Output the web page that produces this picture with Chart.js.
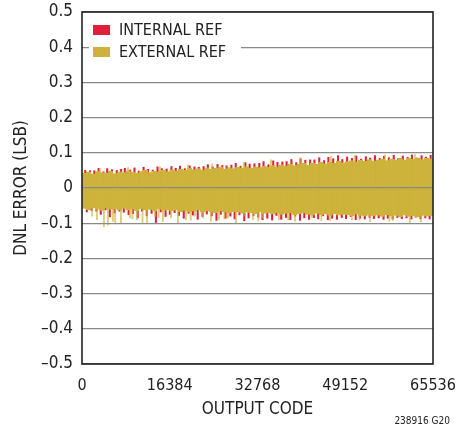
<!DOCTYPE html>
<html>
<head>
<meta charset="utf-8">
<script src="https://cdn.jsdelivr.net/npm/chart.js@4"></script>
<style>
  html, body { margin: 0; padding: 0; background: #fff; }
  #wrap { position: relative; width: 456px; height: 427px; }
  #note {
    position: absolute; right: 6px; bottom: 1px;
    font: 10px 'Liberation Sans Narrow', 'DejaVu Sans Condensed', sans-serif;
    color: #222;
  }
</style>
</head>
<body>
<div id="wrap">
  <canvas id="dnlChart" width="456" height="427"></canvas>
  <div id="note">238916 G20</div>
</div>
<script>
// envelope of the DNL bands, 80 segments across the code range (LSB)
const EXT_HI = [
  0.042, 0.045, 0.040, 0.047, 0.044, 0.043, 0.048, 0.041, 0.046, 0.044,
  0.049, 0.045, 0.043, 0.047, 0.050, 0.044, 0.048, 0.046, 0.051, 0.047,
  0.052, 0.049, 0.054, 0.050, 0.056, 0.052, 0.055, 0.051, 0.057, 0.053,
  0.056, 0.060, 0.054, 0.058, 0.055, 0.059, 0.057, 0.061, 0.056, 0.060,
  0.058, 0.062, 0.059, 0.064, 0.060, 0.066, 0.062, 0.068, 0.064, 0.067,
  0.070, 0.065, 0.071, 0.068, 0.073, 0.069, 0.074, 0.070, 0.076, 0.072,
  0.075, 0.078, 0.073, 0.079, 0.076, 0.081, 0.077, 0.080, 0.083, 0.078,
  0.082, 0.079, 0.084, 0.080, 0.085, 0.082, 0.086, 0.081, 0.084, 0.083
];
const EXT_LO = [
  -0.058, -0.062, -0.056, -0.060, -0.064, -0.057, -0.061, -0.059, -0.063, -0.058,
  -0.062, -0.060, -0.065, -0.059, -0.063, -0.061, -0.066, -0.060, -0.064, -0.062,
  -0.065, -0.063, -0.067, -0.064, -0.068, -0.066, -0.063, -0.069, -0.065, -0.067,
  -0.070, -0.066, -0.068, -0.071, -0.067, -0.069, -0.072, -0.068, -0.070, -0.073,
  -0.069, -0.072, -0.070, -0.074, -0.071, -0.075, -0.072, -0.070, -0.076, -0.073,
  -0.071, -0.075, -0.077, -0.072, -0.076, -0.074, -0.078, -0.073, -0.077, -0.075,
  -0.076, -0.079, -0.074, -0.078, -0.080, -0.075, -0.079, -0.077, -0.081, -0.076,
  -0.080, -0.078, -0.082, -0.077, -0.081, -0.079, -0.083, -0.078, -0.080, -0.079
];

// codes where the internal-ref DNL pokes out above the band
const INT_UP_CODES = [600, 1500, 2300, 3100, 4000, 4700, 5600, 6500, 7300, 8000,
  9000, 9800, 10600, 11500, 12300, 13200, 14100, 14900, 15800, 16700,
  17500, 18300, 19200, 20100, 21000, 21800, 22700, 23500, 24400, 25300,
  26200, 27000, 27900, 28700, 29600, 30500, 31300, 32200, 33100, 33900,
  34800, 35700, 36500, 37400, 38200, 39100, 40000, 40800, 41700, 42600,
  43400, 44300, 45200, 46000, 46900, 47800, 48600, 49500, 50400, 51200,
  52100, 53000, 53800, 54700, 55600, 56400, 57300, 58200, 59000, 59900,
  60800, 61600, 62500, 63400, 64200, 65100];
const INT_UP_VALUES = [0.050, 0.049, 0.049, 0.056, 0.046, 0.055, 0.052, 0.050, 0.053, 0.056,
  0.051, 0.057, 0.048, 0.059, 0.053, 0.051, 0.060, 0.055, 0.054, 0.061,
  0.056, 0.062, 0.055, 0.063, 0.060, 0.059, 0.061, 0.066, 0.060, 0.067,
  0.064, 0.063, 0.065, 0.070, 0.062, 0.072, 0.068, 0.069, 0.070, 0.075,
  0.066, 0.077, 0.073, 0.074, 0.075, 0.081, 0.072, 0.083, 0.079, 0.080,
  0.080, 0.086, 0.078, 0.087, 0.083, 0.092, 0.081, 0.088, 0.084, 0.091,
  0.082, 0.089, 0.085, 0.092, 0.084, 0.090, 0.086, 0.093, 0.083, 0.091,
  0.087, 0.094, 0.085, 0.092, 0.088, 0.093];
// codes where the internal-ref DNL pokes out below the band
const INT_DN_CODES = [900, 1800, 2700, 3500, 4400, 5200, 6100, 7000, 7800, 8700,
  9500, 10400, 11200, 12100, 13000, 13800, 14700, 15600, 16400, 17300,
  18100, 19000, 19900, 20700, 21600, 22500, 23300, 24200, 25100, 25900,
  26800, 27700, 28500, 29400, 30300, 31100, 32000, 32900, 33700, 34600,
  35500, 36300, 37200, 38100, 38900, 39800, 40700, 41500, 42400, 43300,
  44100, 45000, 45900, 46700, 47600, 48500, 49300, 50200, 51100, 51900,
  52800, 53700, 54500, 55400, 56300, 57100, 58000, 58900, 59700, 60600,
  61500, 62300, 63200, 64100, 64900];
const INT_DN_VALUES = [-0.068, -0.064, -0.066, -0.075, -0.062, -0.082, -0.071, -0.066, -0.069, -0.076,
  -0.073, -0.085, -0.066, -0.079, -0.072, -0.098, -0.068, -0.081, -0.075, -0.070,
  -0.078, -0.086, -0.072, -0.077, -0.089, -0.081, -0.074, -0.079, -0.092, -0.075,
  -0.086, -0.080, -0.088, -0.076, -0.093, -0.085, -0.079, -0.083, -0.090, -0.086,
  -0.091, -0.078, -0.089, -0.084, -0.090, -0.080, -0.092, -0.085, -0.089, -0.084,
  -0.088, -0.079, -0.090, -0.086, -0.089, -0.084, -0.087, -0.081, -0.090, -0.086,
  -0.088, -0.084, -0.087, -0.085, -0.089, -0.086, -0.088, -0.084, -0.087, -0.085,
  -0.088, -0.083, -0.087, -0.085, -0.088];

// single codes where the external-ref DNL sticks out of its band
const EXT_SPIKE_CODES = [2800, 4100, 4850, 5780, 7280, 8960, 10270, 12140, 13630, 15120,
  16610, 17920, 19410, 21090, 22590, 24080, 25570, 27260, 28750, 30430,
  31920, 33600, 36780, 39760, 42940, 46300, 50400, 53760, 58050, 61220,
  1900, 6200, 9400, 11300, 14300, 20300, 26600, 32900, 38500, 44700, 51800, 57400, 63300,
  3360, 8590, 14560, 19790, 24270, 30240, 35280, 40700, 46480, 50960, 56560, 62160];
const EXT_SPIKE_VALUES = [-0.090, -0.110, -0.105, -0.095, -0.100, -0.085, -0.090, -0.100, -0.080, -0.095,
  -0.085, -0.100, -0.090, -0.080, -0.085, -0.095, -0.090, -0.085, -0.100, -0.080,
  -0.090, -0.085, -0.090, -0.095, -0.085, -0.092, -0.090, -0.095, -0.092, -0.100,
  -0.080, -0.102, -0.088, -0.098, -0.084, -0.092, -0.088, -0.094, -0.090, -0.093, -0.091, -0.094, -0.096,
  0.055, 0.058, 0.060, 0.065, 0.068, 0.072, 0.080, 0.086, 0.090, 0.093, 0.094, 0.095];

const SERIES_LABELS = ['INTERNAL REF', 'EXTERNAL REF'];
const X_TICKS = [0, 16384, 32768, 49152, 65536];
const Y_TICKS = [-0.5, -0.4, -0.3, -0.2, -0.1, 0, 0.1, 0.2, 0.3, 0.4, 0.5];

const RED = '#e0203a';
const GOLD = '#cdb33b';
const INK = '#222';
const FONT = "'Liberation Sans Narrow', 'DejaVu Sans Condensed', sans-serif";

const CODE_MAX = 65536;
const segWidth = CODE_MAX / EXT_HI.length;
const bandCodes = EXT_HI.map((_, i) => (i + 0.5) * segWidth);

const band = (hi, lo) => bandCodes.map((c, i) => ({ x: c, y: [lo[i], hi[i]] }));
const spikes = (codes, vals) => codes.map((c, i) => ({ x: c, y: [0, vals[i]] }));

// frame round the plot, then the legend inside it, top left, on a white box
const frameAndLegend = {
  id: 'frameAndLegend',
  afterDraw(chart) {
    const ctx = chart.ctx;
    const a = chart.chartArea;
    ctx.save();
    ctx.strokeStyle = INK;
    ctx.lineWidth = 1.6;
    ctx.strokeRect(a.left, a.top, a.right - a.left, a.bottom - a.top);

    ctx.fillStyle = '#fff';
    ctx.fillRect(a.left + 7, a.top + 6, 152, 46);
    ctx.font = '16px ' + FONT;
    ctx.textBaseline = 'middle';
    [RED, GOLD].forEach((col, i) => {
      const y = a.top + 18 + i * 22;
      ctx.fillStyle = col;
      ctx.fillRect(a.left + 11, y - 5, 17, 10);
      ctx.fillStyle = INK;
      ctx.fillText(SERIES_LABELS[i], a.left + 37, y + 1);
    });
    ctx.restore();
  }
};

new Chart(document.getElementById('dnlChart'), {
  type: 'bar',
  data: {
    datasets: [
      { label: SERIES_LABELS[0], data: spikes(INT_UP_CODES, INT_UP_VALUES),
        backgroundColor: RED, barThickness: 1.4, grouped: false, order: 5 },
      { label: SERIES_LABELS[0], data: spikes(INT_DN_CODES, INT_DN_VALUES),
        backgroundColor: RED, barThickness: 1.4, grouped: false, order: 4 },
      { label: SERIES_LABELS[1], data: band(EXT_HI, EXT_LO),
        backgroundColor: GOLD, borderColor: GOLD, borderWidth: 0.6, borderSkipped: false,
        barThickness: 4.7, grouped: false, order: 3 },
      { label: SERIES_LABELS[1], data: spikes(EXT_SPIKE_CODES, EXT_SPIKE_VALUES),
        backgroundColor: 'rgba(205,179,59,0.65)', barThickness: 1.3, grouped: false, order: 2 }
    ]
  },
  options: {
    responsive: false,
    animation: false,
    layout: { padding: { left: 0, right: 23, top: 12, bottom: 0 } },
    plugins: { legend: { display: false }, tooltip: { enabled: false } },
    scales: {
      x: {
        type: 'linear',
        offset: false,
        min: 0,
        max: CODE_MAX,
        afterFit: s => { s.height = 63; s.paddingLeft = 0; s.paddingRight = 0; },
        afterBuildTicks: s => { s.ticks = X_TICKS.map(v => ({ value: v })); },
        ticks: { color: INK, font: { family: FONT, size: 16 }, padding: 4,
                 maxRotation: 0, autoSkip: false, callback: v => String(v) },
        grid: { display: false },
        border: { display: false },
        title: { display: true, text: 'OUTPUT CODE', color: INK,
                 font: { family: FONT, size: 17 }, padding: { top: 0, bottom: 7 } }
      },
      y: {
        min: -0.5,
        max: 0.5,
        afterFit: s => { s.width = 82; s.paddingTop = 0; s.paddingBottom = 0; },
        afterBuildTicks: s => { s.ticks = Y_TICKS.map(v => ({ value: v })); },
        ticks: { color: INK, font: { family: FONT, size: 17 }, padding: 9,
                 callback: v => v === 0 ? '0' : (v < 0 ? '\u2013' + Math.abs(v).toFixed(1) : v.toFixed(1)) },
        grid: { color: '#8a8a8a', lineWidth: 1.2, drawTicks: false, z: 1 },
        border: { display: false },
        title: { display: true, text: 'DNL ERROR (LSB)', color: INK,
                 font: { family: FONT, size: 17 }, padding: { top: 11 } }
      }
    }
  },
  plugins: [frameAndLegend]
});
</script>
</body>
</html>
